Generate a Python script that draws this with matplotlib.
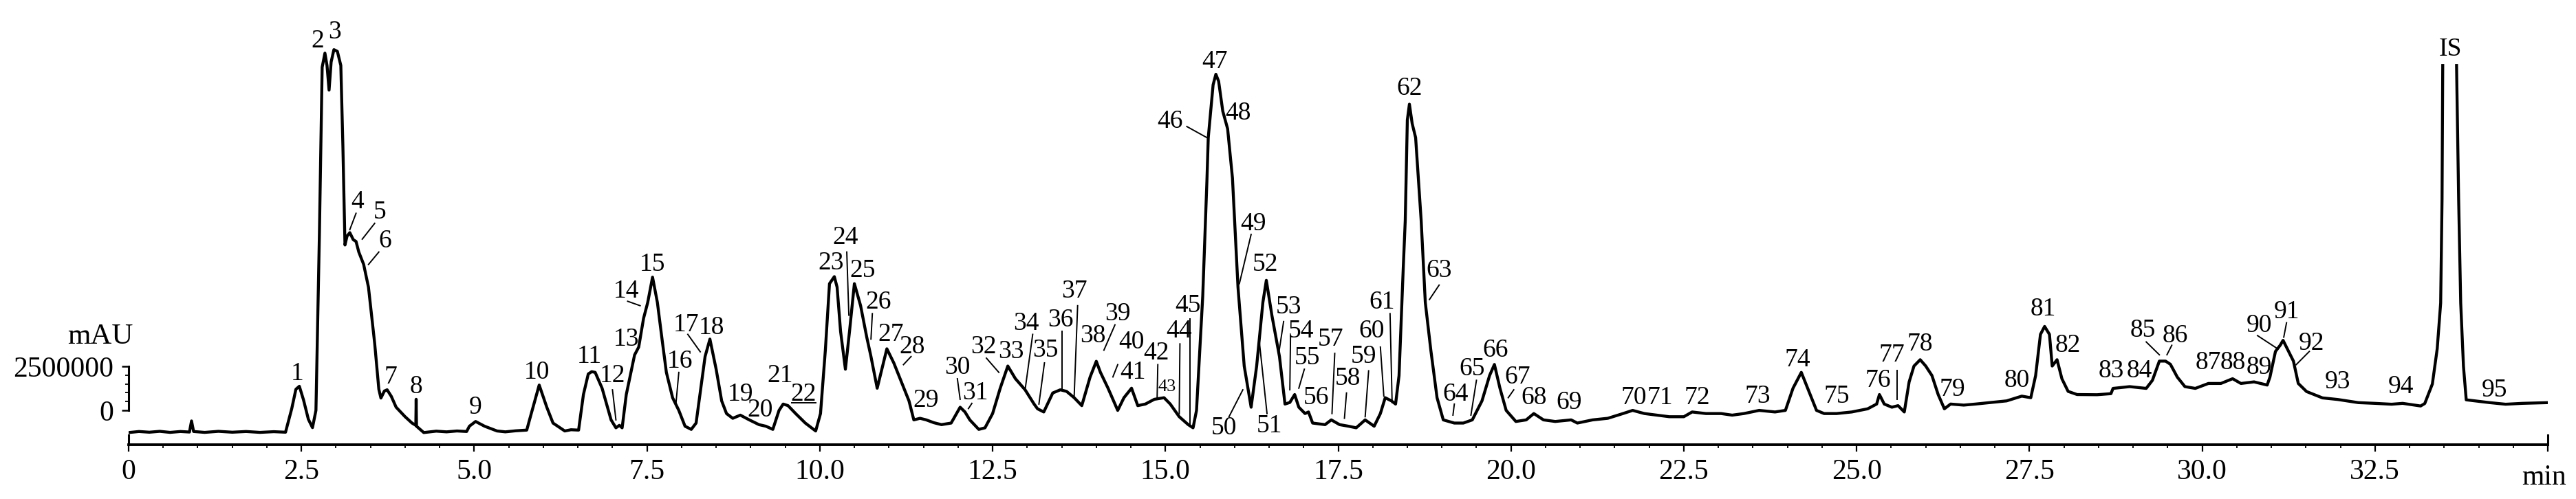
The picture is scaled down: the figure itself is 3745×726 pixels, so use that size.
import numpy as np
import matplotlib
matplotlib.use('Agg')
import matplotlib.pyplot as plt
from matplotlib.ticker import FixedLocator, MultipleLocator

plt.rcParams['font.family'] = ['Liberation Serif', 'DejaVu Serif']

# chromatogram trace: retention time (min), signal (x 1e6 mAU)
# nan = the IS peak runs off the top of the plot
time_min = [
    0.0, 0.15, 0.3, 0.45, 0.6, 0.75, 0.88, 0.91, 0.94, 1.1, 1.3, 1.5, 1.7, 1.9, 2.1,
    2.27, 2.36, 2.42, 2.47, 2.53, 2.6, 2.66, 2.71, 2.76, 2.8, 2.84, 2.87, 2.9, 2.93,
    2.97, 3.02, 3.07, 3.1, 3.13, 3.16, 3.2, 3.25, 3.29, 3.33, 3.4, 3.47, 3.56, 3.62,
    3.65, 3.7, 3.74, 3.8, 3.87, 4.0, 4.1, 4.155, 4.16, 4.165, 4.27, 4.45, 4.6, 4.75,
    4.89, 4.93, 5.02, 5.15, 5.33, 5.45, 5.6, 5.76, 5.8, 5.94, 6.05, 6.14, 6.31, 6.4,
    6.51, 6.58, 6.65, 6.7, 6.75, 6.85, 6.98, 7.05, 7.1, 7.14, 7.2, 7.32, 7.38, 7.45,
    7.51, 7.58, 7.65, 7.72, 7.78, 7.87, 7.96, 8.05, 8.14, 8.21, 8.29, 8.34, 8.41, 8.5,
    8.58, 8.65, 8.74, 8.85, 8.98, 9.12, 9.22, 9.32, 9.41, 9.47, 9.54, 9.65, 9.79, 9.94,
    10.01, 10.08, 10.14, 10.21, 10.25, 10.3, 10.37, 10.43, 10.5, 10.59, 10.68, 10.74,
    10.83, 10.97, 11.07, 11.18, 11.29, 11.36, 11.45, 11.54, 11.65, 11.76, 11.9, 12.03,
    12.1, 12.17, 12.3, 12.39, 12.5, 12.61, 12.72, 12.83, 12.97, 13.1, 13.15, 13.24,
    13.37, 13.48, 13.57, 13.68, 13.79, 13.91, 14.0, 14.06, 14.17, 14.31, 14.4, 14.51,
    14.6, 14.71, 14.84, 14.98, 15.07, 15.2, 15.33, 15.4, 15.45, 15.54, 15.6, 15.62,
    15.69, 15.73, 15.77, 15.83, 15.9, 15.93, 15.97, 16.05, 16.14, 16.24, 16.32, 16.41,
    16.46, 16.54, 16.65, 16.73, 16.8, 16.87, 16.93, 17.02, 17.07, 17.13, 17.31, 17.4,
    17.52, 17.65, 17.76, 17.89, 18.02, 18.11, 18.18, 18.27, 18.33, 18.38, 18.44, 18.47,
    18.5, 18.53, 18.57, 18.62, 18.7, 18.76, 18.84, 18.93, 19.02, 19.18, 19.31, 19.44,
    19.58, 19.69, 19.76, 19.84, 19.93, 20.07, 20.22, 20.33, 20.47, 20.64, 20.87, 20.96,
    21.18, 21.4, 21.62, 21.76, 21.93, 22.11, 22.29, 22.5, 22.62, 22.82, 23.04, 23.2,
    23.37, 23.59, 23.82, 23.97, 24.08, 24.2, 24.31, 24.42, 24.53, 24.71, 24.93, 25.16,
    25.29, 25.33, 25.4, 25.51, 25.6, 25.69, 25.76, 25.83, 25.92, 26.0, 26.09, 26.18,
    26.27, 26.36, 26.55, 26.72, 26.94, 27.17, 27.39, 27.52, 27.59, 27.66, 27.72, 27.79,
    27.83, 27.9, 27.97, 28.06, 28.19, 28.48, 28.68, 28.71, 28.95, 29.19, 29.28, 29.38,
    29.47, 29.54, 29.64, 29.75, 29.9, 30.09, 30.27, 30.44, 30.56, 30.75, 30.94, 30.98,
    31.06, 31.13, 31.17, 31.25, 31.32, 31.39, 31.51, 31.74, 31.96, 32.26, 32.5, 32.74,
    32.9, 33.16, 33.22, 33.33, 33.4, 33.45, 33.47, 33.48, 33.58, 33.68, 33.71, 33.74,
    33.78, 33.82, 33.97, 34.16, 34.39, 34.63, 35.0,
]
signal_M = [
    -1.26, -1.2, -1.24, -1.19, -1.25, -1.2, -1.23, -0.6, -1.2, -1.25, -1.19, -1.24, -1.2, -1.25, -1.21,
    -1.24, 0.1, 1.2, 1.37, 0.6, -0.5, -0.98, 0.0, 10.0, 19.5, 20.3, 19.6, 18.2, 19.8,
    20.5, 20.4, 19.6, 15.0, 9.4, 9.9, 10.1, 9.7, 9.6, 9.0, 8.3, 7.0, 3.8, 1.2,
    0.7, 1.1, 1.17, 0.8, 0.18, -0.36, -0.72, -0.85, 0.63, -0.9, -1.26, -1.18, -1.22, -1.17,
    -1.2, -0.9, -0.63, -0.9, -1.17, -1.22, -1.16, -1.12, -0.54, 1.44, 0.18, -0.72, -1.17, -1.1,
    -1.12, 0.9, 2.07, 2.2, 2.16, 1.26, -0.54, -0.99, -0.85, -0.99, 0.9, 3.15, 3.6, 5.23,
    6.13, 7.57, 6.13, 3.96, 2.16, 0.72, 0.0, -0.9, -1.08, -0.72, 1.62, 3.06, 4.05, 2.34,
    0.54, -0.18, -0.45, -0.27, -0.54, -0.81, -0.9, -1.08, 0.0, 0.36, 0.27, -0.18, -0.72, -1.17,
    -0.18, 3.42, 7.2, 7.6, 7.0, 4.5, 2.34, 4.5, 7.2, 5.95, 4.14, 3.06,
    1.26, 3.5, 2.7, 1.62, 0.54, -0.54, -0.45, -0.54, -0.7, -0.81, -0.72, 0.18,
    -0.09, -0.54, -1.08, -0.99, -0.18, 1.26, 2.52, 1.8, 1.17, 0.36, 0.09, -0.09,
    0.99, 1.17, 1.08, 0.72, 0.27, 1.89, 2.79, 2.16, 1.26, 0.0, 0.72, 1.26,
    0.27, 0.36, 0.63, 0.72, 0.36, -0.36, -0.81, -0.99, 0.0, 6.5, 13.0, 15.5,
    18.5, 19.1, 18.7, 17.0, 16.0, 14.8, 13.2, 7.0, 2.52, 0.18, 2.52, 6.13,
    7.39, 5.41, 3.06, 0.36, 0.45, 0.9, 0.18, -0.18, -0.09, -0.72, -0.81, -0.54,
    -0.81, -0.9, -0.99, -0.54, -0.9, -0.18, 0.72, 0.54, 0.36, 1.98, 8.0, 10.8,
    16.5, 17.4, 16.3, 15.5, 10.8, 6.13, 3.42, 0.72, -0.54, -0.72, -0.72, -0.54,
    0.54, 1.98, 2.61, 1.26, 0.0, -0.63, -0.54, -0.18, -0.54, -0.63, -0.54, -0.72,
    -0.54, -0.45, -0.18, 0.0, -0.18, -0.27, -0.36, -0.36, -0.09, -0.18, -0.18, -0.27,
    -0.18, 0.0, -0.09, 0.0, 1.26, 2.16, 1.08, 0.0, -0.18, -0.18, -0.09, 0.09,
    0.36, 0.9, 0.36, 0.18, 0.27, -0.09, 1.62, 2.52, 2.88, 2.52, 1.98, 0.9,
    0.09, 0.36, 0.3, 0.36, 0.45, 0.54, 0.81, 0.72, 1.98, 4.32, 4.77, 4.32,
    2.52, 2.88, 1.8, 1.08, 0.9, 0.89, 0.95, 1.25, 1.35, 1.25, 1.71, 2.8,
    2.8, 2.62, 1.89, 1.35, 1.25, 1.53, 1.53, 1.8, 1.53, 1.62, 1.44, 1.89,
    3.35, 3.71, 3.98, 3.35, 2.8, 1.53, 1.07, 0.71, 0.62, 0.44, 0.4, 0.35,
    0.4, 0.25, 0.39, 1.5, 3.5, 6.1, 12.0, 19.6, np.nan, 19.6, 12.0, 6.1,
    2.5, 0.6, 0.53, 0.44, 0.35, 0.4, 0.44,
]

# peak numbers and where their labels sit (time, signal x 1e6)
peak_ids = [str(i) for i in range(1, 96)] + ['IS']
label_t = [
    2.44, 2.73, 2.98, 3.31, 3.63, 3.71, 3.79, 4.16, 5.02, 5.91,
    6.67, 7.0, 7.2, 7.2, 7.58, 7.98, 8.07, 8.43, 8.85, 9.14,
    9.43, 9.76, 10.16, 10.37, 10.62, 10.85, 11.03, 11.34, 11.54, 11.99,
    12.25, 12.37, 12.77, 12.99, 13.26, 13.48, 13.68, 13.95, 14.31, 14.51,
    14.53, 14.87, 15.02, 15.2, 15.33, 15.07, 15.71, 16.05, 16.27, 15.85,
    16.5, 16.45, 16.78, 16.96, 17.05, 17.18, 17.39, 17.64, 17.87, 17.98,
    18.13, 18.53, 18.96, 19.2, 19.44, 19.78, 20.09, 20.33, 20.84, 21.78,
    22.16, 22.69, 23.57, 24.15, 24.71, 25.31, 25.51, 25.92, 26.38, 27.32,
    27.7, 28.06, 28.68, 29.09, 29.14, 29.61, 30.09, 30.44, 30.82, 30.82,
    31.22, 31.58, 31.96, 32.88, 34.23, 33.59,
]
label_s = [
    2.07, 21.0, 21.5, 11.86, 11.26, 9.64, 1.89, 1.35, 0.15, 2.16,
    3.06, 1.98, 4.05, 6.76, 8.29, 2.79, 4.86, 4.68, 0.9, 0.0,
    1.98, 0.9, 8.38, 9.82, 7.93, 6.13, 4.32, 3.6, 0.54, 2.43,
    0.99, 3.6, 3.33, 4.95, 3.42, 5.14, 6.76, 4.23, 5.5, 3.87,
    2.16, 3.24, 1.35, 4.5, 5.95, 16.4, 19.8, 16.9, 10.6, -1.0,
    -0.9, 8.29, 5.86, 4.5, 2.97, 0.72, 4.05, 1.8, 3.06, 4.5,
    6.13, 18.3, 7.93, 0.9, 2.34, 3.42, 1.89, 0.72, 0.45, 0.72,
    0.72, 0.72, 0.81, 2.88, 0.81, 1.71, 3.15, 3.78, 1.17, 1.71,
    5.77, 3.69, 2.25, 2.25, 4.53, 4.25, 2.7, 2.7, 2.43, 4.8,
    5.6, 3.8, 1.62, 1.35, 1.16, 20.5,
]
small_labels = ['43']

# leader lines from a label to its peak: (t0, s0, t1, s1)
leaders = {
    '4': (3.2, 10.27, 3.29, 11.2), '5': (3.38, 9.73, 3.56, 10.63),
    '6': (3.47, 8.29, 3.62, 9.0), '12': (7.0, 1.17, 7.05, -0.54),
    '14': (7.22, 6.2, 7.4, 5.95), '16': (7.96, 2.16, 7.92, 0.45),
    '17': (8.09, 4.32, 8.27, 3.33), '22': (9.59, 0.45, 9.94, 0.45),
    '24': (10.39, 9.0, 10.42, 5.41), '26': (10.76, 5.5, 10.74, 4.05),
    '28': (11.32, 3.06, 11.21, 2.6), '30': (11.99, 1.8, 12.03, 0.63),
    '31': (12.2, 0.4, 12.15, 0.1), '32': (12.41, 2.97, 12.59, 2.16),
    '34': (13.08, 4.32, 12.97, 1.17), '35': (13.25, 2.7, 13.17, 0.36),
    '36': (13.5, 4.5, 13.5, 1.26), '37': (13.73, 5.95, 13.68, 0.81),
    '39': (14.27, 4.86, 14.11, 3.42), '41': (14.31, 2.6, 14.24, 1.9),
    '42': (14.89, 2.6, 14.88, 0.72), '44': (15.21, 3.78, 15.2, -0.18),
    '45': (15.36, 5.2, 15.36, -0.8), '46': (15.31, 16.13, 15.6, 15.5),
    '49': (16.24, 10.0, 16.07, 7.2), '50': (15.92, -0.36, 16.12, 1.17),
    '51': (16.47, -0.18, 16.36, 3.87), '53': (16.71, 5.05, 16.64, 3.24),
    '54': (16.81, 4.23, 16.8, 1.17), '55': (17.01, 2.34, 16.93, 1.26),
    '57': (17.45, 3.24, 17.41, -0.18), '58': (17.62, 0.99, 17.59, -0.45),
    '59': (17.94, 2.25, 17.89, -0.36), '60': (18.11, 3.6, 18.16, 0.81),
    '61': (18.25, 5.5, 18.28, 0.45), '63': (18.96, 7.12, 18.82, 6.3),
    '64': (19.18, 0.36, 19.16, -0.27), '65': (19.5, 1.71, 19.42, -0.27),
    '67': (20.04, 1.17, 19.96, 0.72), '77': (25.59, 2.25, 25.59, 0.63),
    '85': (29.19, 3.89, 29.38, 3.16), '86': (29.56, 3.7, 29.49, 3.16),
    '90': (30.8, 4.25, 31.08, 3.53), '91': (31.22, 4.98, 31.18, 4.16),
    '92': (31.55, 3.35, 31.36, 2.6),
}

x_ticks = [0, 2.5, 5.0, 7.5, 10.0, 12.5, 15.0, 17.5, 20.0, 22.5, 25.0, 27.5, 30.0, 32.5, 35.0]
x_ticklabels = ['0', '2.5', '5.0', '7.5', '10.0', '12.5', '15.0', '17.5', '20.0',
                '22.5', '25.0', '27.5', '30.0', '32.5', '']
SCALE = 1e6

W, H = 3745, 726
fig = plt.figure(figsize=(W / 100, H / 100), dpi=100)
ax = fig.add_axes([187 / W, (H - 647) / H, (3704 - 187) / W, 647 / H])

t = np.array(time_min)
s = np.array(signal_M) * SCALE
ax.plot(t, s, color='black', lw=3.1, solid_joinstyle='round')

for pid, lt, ls in zip(peak_ids, label_t, label_s):
    fs = 19 if pid in small_labels else 27
    ax.text(lt, ls * SCALE, pid, ha='center', va='center', fontsize=fs, color='black')

for pid, (t0, s0, t1, s1) in leaders.items():
    ax.plot([t0, t1], [s0 * SCALE, s1 * SCALE], color='black', lw=1.4)

ax.set_xlim(0, 35)
ax.set_ylim(-1.95 * SCALE, 23.32 * SCALE)

for side in ['top', 'right']:
    ax.spines[side].set_visible(False)
ax.spines['bottom'].set_linewidth(2.8)
ax.spines['left'].set_linewidth(2.2)
ax.spines['left'].set_bounds(0, 2.5 * SCALE)

ax.xaxis.set_major_locator(FixedLocator(x_ticks))
ax.set_xticklabels(x_ticklabels)
ax.xaxis.set_minor_locator(MultipleLocator(0.5))
ax.tick_params(axis='x', which='major', length=7, width=1.6, labelsize=30, pad=8)
ax.tick_params(axis='x', which='minor', length=3.5, width=1.3)

ax.yaxis.set_major_locator(FixedLocator([0, 2.5 * SCALE]))
ax.set_yticklabels(['0', '2500000'])
ax.yaxis.set_minor_locator(FixedLocator([0.5 * SCALE, 1.0 * SCALE, 1.5 * SCALE, 2.0 * SCALE]))
ax.tick_params(axis='y', which='major', length=7, width=1.8, labelsize=30, pad=9)
ax.tick_params(axis='y', which='minor', length=3.5, width=1.3)

# end caps of the time axis
for xc in [0, 35]:
    ax.axvline(xc, ymin=0, ymax=14 / 647, color='black', lw=2.2, clip_on=False)

fig.text(193 / W, 1 - 490 / H, 'mAU', ha='right', va='center', fontsize=31)
fig.text(3698 / W, 1 - 695 / H, 'min', ha='center', va='center', fontsize=30)

fig.savefig('out.png', dpi=100, facecolor='white')
